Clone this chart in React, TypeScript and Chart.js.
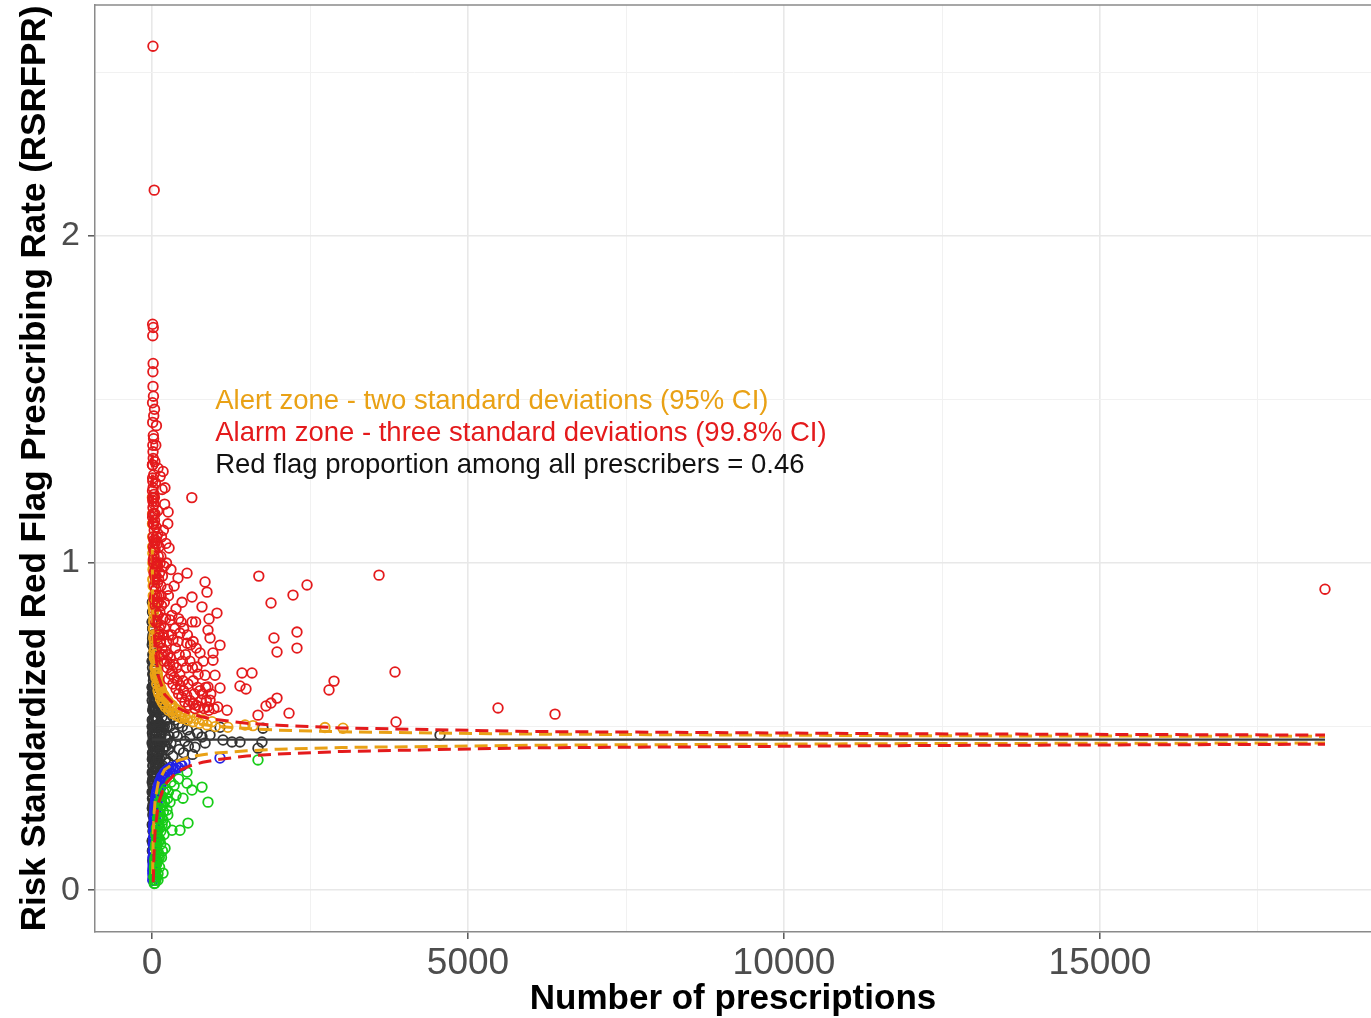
import React, { useEffect, useRef } from 'react';
import { Chart, registerables } from 'chart.js';

Chart.register(...registerables);

// ---------- Axis ticks ----------
const xTickValues = [0, 2500, 5000, 7500, 10000, 12500, 15000, 17500];
const xTickLabels = ['0', '', '5000', '', '10000', '', '15000', ''];
const yTickValues = [0, 0.5, 1, 1.5, 2, 2.5];
const yTickLabels = ['0', '', '1', '', '2', ''];

const xTitle = 'Number of prescriptions';
const yTitle = 'Risk Standardized Red Flag Prescribing Rate (RSRFPR)';

const annotationTexts = [
  'Alert zone - two standard deviations (95% CI)',
  'Alarm zone - three standard deviations (99.8% CI)',
  'Red flag proportion among all prescribers = 0.46',
];

// ---------- Points: [number of prescriptions, RSRFPR] ----------
const redPoints: [number, number][] = [
  [15, 2.58], [35, 2.14], [10, 1.73], [20, 1.72], [12, 1.695], [18, 1.61], [14, 1.585],
  [16, 1.54], [23, 1.51], [9, 1.49], [40, 1.47], [27, 1.45], [11, 1.43], [70, 1.42],
  [21, 1.39], [25, 1.38], [13, 1.36], [60, 1.36], [16, 1.34], [19, 1.32], [45, 1.31],
  [9, 1.3], [95, 1.29], [175, 1.28], [28, 1.27], [10, 1.26], [130, 1.265], [12, 1.25],
  [55, 1.245], [17, 1.23], [205, 1.23], [160, 1.225], [30, 1.21], [24, 1.2], [38, 1.2],
  [630, 1.2], [200, 1.18], [33, 1.18], [15, 1.17], [90, 1.16], [255, 1.156], [48, 1.15],
  [25, 1.15], [40, 1.13], [250, 1.12], [26, 1.12], [65, 1.11], [180, 1.1], [35, 1.1],
  [75, 1.08], [30, 1.07], [85, 1.06], [220, 1.06], [110, 1.05], [270, 1.046], [50, 1.04],
  [100, 1.02], [140, 1.02], [20, 1.01], [60, 1.0], [70, 0.99], [300, 0.98], [120, 0.97],
  [45, 0.96], [90, 0.94], [140, 0.93], [350, 0.93], [60, 0.92], [110, 0.9], [260, 0.9],
  [35, 0.89], [80, 0.88], [150, 0.87], [380, 0.86], [125, 0.85], [95, 0.84], [170, 0.83],
  [420, 0.83], [60, 0.82], [140, 0.81], [200, 0.8], [500, 0.8], [105, 0.79], [180, 0.78],
  [560, 0.78], [310, 0.78], [75, 0.77], [230, 0.76], [650, 0.76], [130, 0.755], [160, 0.74],
  [370, 0.74], [700, 0.74], [210, 0.73], [150, 0.72], [250, 0.72], [430, 0.72], [115, 0.715],
  [190, 0.7], [480, 0.7], [600, 0.7], [280, 0.69], [240, 0.68], [540, 0.68], [320, 0.67],
  [300, 0.66], [350, 0.65], [260, 0.645], [400, 0.64], [650, 0.64], [330, 0.63],
  [450, 0.625], [720, 0.62], [380, 0.615], [500, 0.61], [420, 0.6], [800, 0.6], [550, 0.595],
  [470, 0.59], [600, 0.58], [860, 0.58], [520, 0.575], [650, 0.57], [580, 0.565],
  [700, 0.565], [750, 0.56], [680, 0.555], [820, 0.555], [900, 0.55],
  [7, 1.3], [8, 1.22], [10, 1.14], [13, 1.19], [18, 1.12], [22, 1.05], [28, 1.0], [32, 0.97],
  [38, 0.93], [44, 0.9], [52, 0.87], [58, 0.95], [66, 0.85], [72, 0.9], [82, 0.82],
  [88, 0.99], [98, 0.78], [102, 0.88], [118, 0.8], [135, 0.76], [145, 0.9], [165, 0.96],
  [185, 0.72], [195, 0.88], [215, 0.83], [235, 0.7], [265, 0.78], [290, 0.71], [315, 0.84],
  [340, 0.69], [365, 0.8], [390, 0.68], [410, 0.76], [440, 0.66], [460, 0.82], [490, 0.64],
  [530, 0.72], [570, 0.63], [610, 0.75], [640, 0.68], [670, 0.6], [690, 0.82], [730, 0.66],
  [780, 0.58], [810, 0.7], [850, 0.62], [880, 0.56], [930, 0.6], [980, 0.555], [1040, 0.56],
  [11, 1.2], [14, 1.15], [19, 1.08], [23, 1.12], [29, 1.04], [34, 1.02], [42, 1.06],
  [47, 0.98], [56, 1.07], [64, 0.96], [78, 1.0], [92, 1.09], [105, 0.95], [128, 1.0],
  [150, 1.08], [190, 0.99], [230, 1.0], [245, 0.92],
  [411, 0.954], [554, 0.969], [839, 0.942], [870, 0.911], [633, 0.896], [475, 0.88],
  [791, 0.866], [1028, 0.847], [633, 0.82], [886, 0.795], [918, 0.771], [1076, 0.749],
  [965, 0.725], [965, 0.703], [760, 0.725], [443, 0.786], [285, 0.826], [332, 0.765],
  [554, 0.755], [712, 0.682], [839, 0.657], [997, 0.657], [1076, 0.618], [886, 0.621],
  [760, 0.61], [918, 0.581], [1187, 0.55], [1424, 0.664], [1582, 0.664], [1392, 0.624],
  [1487, 0.615], [1690, 0.96], [2453, 0.933], [2231, 0.902], [1883, 0.878], [3592, 0.963],
  [2294, 0.789], [1930, 0.771], [1978, 0.728], [2294, 0.74], [902, 0.829], [3845, 0.667],
  [2880, 0.639], [2801, 0.612], [1978, 0.587], [1883, 0.572], [1804, 0.563], [2168, 0.541],
  [1677, 0.535], [5475, 0.557], [6377, 0.538], [3861, 0.514], [18560, 0.92],
];

const orangePoints: [number, number][] = [
  [6, 1.2], [9, 1.15], [8, 1.12], [12, 1.12], [11, 1.08], [10, 1.05], [13, 1.03], [14, 1.0],
  [16, 0.98], [15, 0.95], [17, 0.95], [18, 0.93], [20, 0.9], [22, 0.88], [19, 0.87],
  [24, 0.86], [25, 0.85], [30, 0.83], [28, 0.82], [23, 0.8], [32, 0.8], [35, 0.78],
  [27, 0.77], [40, 0.76], [42, 0.75], [45, 0.74], [33, 0.73], [50, 0.72], [37, 0.71],
  [55, 0.71], [60, 0.7], [65, 0.69], [47, 0.68], [70, 0.68], [53, 0.66], [80, 0.665],
  [85, 0.66], [62, 0.65], [90, 0.65], [100, 0.64], [75, 0.63], [115, 0.63], [120, 0.625],
  [130, 0.62], [140, 0.615], [95, 0.61], [150, 0.61], [110, 0.6], [170, 0.6], [190, 0.595],
  [135, 0.585], [220, 0.585], [240, 0.58], [250, 0.578], [160, 0.575], [180, 0.57],
  [280, 0.57], [300, 0.565], [320, 0.565], [210, 0.56], [360, 0.556], [260, 0.55],
  [400, 0.55], [450, 0.545], [330, 0.54], [380, 0.535], [520, 0.535], [430, 0.53],
  [600, 0.53], [480, 0.525], [700, 0.525], [560, 0.52], [800, 0.52], [650, 0.515],
  [950, 0.515], [750, 0.51], [870, 0.505], [1000, 0.5], [1200, 0.498], [1472, 0.505],
  [1598, 0.503], [2737, 0.497], [3022, 0.495],
];

const blackPoints: [number, number][] = [
  [2, 0.5], [3, 0.33], [4, 0.75], [5, 0.25], [5, 0.6], [6, 0.88], [7, 0.15], [7, 0.42],
  [8, 0.68], [9, 0.3], [10, 0.52], [10, 0.8], [11, 0.2], [12, 0.62], [12, 0.09], [13, 0.38],
  [14, 0.72], [15, 0.12], [16, 0.47], [17, 0.85], [18, 0.28], [18, 0.14], [20, 0.56],
  [21, 0.78], [22, 0.18], [23, 0.4], [25, 0.66], [25, 0.2], [26, 0.33], [28, 0.5],
  [30, 0.72], [30, 0.22], [32, 0.6], [34, 0.44], [35, 0.25], [36, 0.27], [38, 0.68],
  [40, 0.36], [40, 0.3], [42, 0.55], [45, 0.63], [45, 0.27], [47, 0.3], [50, 0.48],
  [52, 0.4], [55, 0.58], [58, 0.34], [60, 0.62], [60, 0.3], [65, 0.45], [68, 0.52],
  [70, 0.32], [72, 0.37], [75, 0.57], [80, 0.42], [85, 0.6], [88, 0.33], [92, 0.5],
  [96, 0.46], [100, 0.55], [105, 0.39], [110, 0.58], [115, 0.43], [120, 0.51], [128, 0.36],
  [135, 0.56], [140, 0.47], [150, 0.41], [160, 0.53], [170, 0.38], [180, 0.49], [190, 0.56],
  [200, 0.44], [215, 0.4], [230, 0.52], [245, 0.46], [250, 0.55], [260, 0.43], [260, 0.39],
  [280, 0.5], [300, 0.45], [330, 0.41], [330, 0.53], [350, 0.48], [360, 0.52], [400, 0.47],
  [420, 0.51], [430, 0.43], [480, 0.5], [500, 0.42], [520, 0.455], [560, 0.49], [575, 0.44],
  [600, 0.47], [640, 0.415], [680, 0.437], [720, 0.48], [791, 0.468], [840, 0.45],
  [918, 0.474], [1076, 0.498], [1123, 0.459], [1266, 0.453], [1392, 0.453], [1677, 0.434],
  [1740, 0.453], [1756, 0.495], [4557, 0.474],
  [1, 0.45], [2, 0.7], [3, 0.58], [4, 0.36], [4, 0.2], [5, 0.82], [6, 0.48], [6, 0.12],
  [7, 0.62], [8, 0.25], [8, 0.5], [9, 0.77], [9, 0.4], [10, 0.15], [11, 0.66], [11, 0.34],
  [12, 0.45], [13, 0.8], [13, 0.23], [14, 0.55], [15, 0.7], [15, 0.32], [16, 0.18],
  [16, 0.62], [17, 0.41], [19, 0.72], [19, 0.5], [20, 0.25], [21, 0.36], [22, 0.64],
  [24, 0.47], [24, 0.7], [26, 0.56], [27, 0.3], [28, 0.74], [29, 0.4], [31, 0.52],
  [33, 0.35], [33, 0.67], [35, 0.45], [37, 0.58], [39, 0.49], [41, 0.65], [43, 0.33],
  [44, 0.42], [46, 0.53], [48, 0.6], [51, 0.37], [53, 0.63], [56, 0.47], [57, 0.29],
  [59, 0.55], [62, 0.4], [63, 0.6], [66, 0.35], [67, 0.5], [71, 0.58], [74, 0.44],
  [77, 0.39], [79, 0.53], [82, 0.48], [86, 0.4], [90, 0.56], [94, 0.37], [98, 0.6],
  [103, 0.45], [108, 0.5], [112, 0.38], [118, 0.55], [124, 0.44], [132, 0.5], [145, 0.55],
  [155, 0.45], [165, 0.5], [175, 0.43], [195, 0.5], [210, 0.47], [225, 0.44], [240, 0.5],
  [270, 0.47],
  [1, 0.62], [2, 0.3], [3, 0.82], [3, 0.15], [4, 0.52], [5, 0.4], [6, 0.7], [7, 0.28],
  [8, 0.85], [9, 0.58], [10, 0.36], [11, 0.48], [12, 0.76], [13, 0.55], [14, 0.26],
  [15, 0.44], [16, 0.78], [17, 0.3], [18, 0.6], [19, 0.38], [20, 0.46], [21, 0.62],
  [22, 0.5], [23, 0.7], [25, 0.42], [26, 0.27], [27, 0.6], [29, 0.65], [30, 0.45],
  [32, 0.3], [34, 0.55], [36, 0.62], [38, 0.4], [40, 0.5], [42, 0.45], [44, 0.58],
  [46, 0.38], [48, 0.45], [50, 0.56], [54, 0.5], [58, 0.44], [61, 0.52], [64, 0.56],
  [69, 0.42], [73, 0.5], [78, 0.46], [84, 0.52], [89, 0.44], [95, 0.4], [101, 0.5],
  [107, 0.42], [114, 0.48], [122, 0.4], [130, 0.45],
];

const bluePoints: [number, number][] = [
  [12, 0.03], [14, 0.05], [16, 0.07], [18, 0.09], [19, 0.12], [20, 0.06], [21, 0.14],
  [22, 0.08], [23, 0.16], [24, 0.12], [25, 0.1], [26, 0.18], [27, 0.15], [28, 0.12],
  [29, 0.2], [30, 0.14], [31, 0.19], [32, 0.1], [33, 0.22], [35, 0.16], [36, 0.21],
  [38, 0.14], [40, 0.18], [42, 0.24], [45, 0.2], [48, 0.17], [50, 0.26], [52, 0.22],
  [55, 0.27], [58, 0.21], [62, 0.24], [65, 0.29], [70, 0.25], [75, 0.3], [78, 0.27],
  [85, 0.26], [90, 0.31], [95, 0.28], [100, 0.32], [110, 0.3], [120, 0.33], [125, 0.31],
  [140, 0.315], [150, 0.345], [160, 0.33], [180, 0.34], [190, 0.355], [210, 0.345],
  [230, 0.365], [240, 0.355], [280, 0.36], [300, 0.375], [330, 0.37], [364, 0.37],
  [380, 0.38], [420, 0.375], [450, 0.385], [475, 0.38], [520, 0.39], [1076, 0.404],
  [13, 0.06], [15, 0.1], [17, 0.04], [19, 0.08], [21, 0.1], [23, 0.05], [25, 0.14],
  [27, 0.18], [30, 0.2], [34, 0.18], [37, 0.23], [41, 0.21], [44, 0.25], [47, 0.23],
  [53, 0.26], [60, 0.28], [68, 0.28], [80, 0.3], [105, 0.32], [130, 0.335], [170, 0.35],
  [200, 0.36], [260, 0.37],
];

const greenPoints: [number, number][] = [
  [30, 0.04], [35, 0.02], [38, 0.07], [40, 0.03], [42, 0.09], [47, 0.021], [45, 0.06],
  [50, 0.1], [52, 0.13], [55, 0.05], [58, 0.17], [60, 0.14], [60, 0.03], [65, 0.08],
  [68, 0.19], [70, 0.12], [72, 0.15], [75, 0.04], [79, 0.092], [80, 0.16], [85, 0.09],
  [88, 0.22], [90, 0.18], [95, 0.031], [95, 0.05], [98, 0.24], [100, 0.2], [105, 0.11],
  [110, 0.15], [112, 0.2], [118, 0.27], [120, 0.22], [120, 0.07], [127, 0.153], [130, 0.25],
  [135, 0.23], [140, 0.18], [145, 0.29], [150, 0.27], [150, 0.1], [160, 0.2], [165, 0.12],
  [170, 0.26], [174, 0.214], [174, 0.052], [185, 0.3], [190, 0.17], [200, 0.27],
  [206, 0.128], [220, 0.31], [237, 0.245], [245, 0.28], [260, 0.3], [285, 0.269],
  [300, 0.33], [316, 0.183], [350, 0.32], [380, 0.29], [420, 0.34], [443, 0.183],
  [490, 0.281], [554, 0.327], [554, 0.361], [570, 0.205], [633, 0.306], [791, 0.315],
  [886, 0.269], [1677, 0.398],
  [36, 0.04], [40, 0.06], [44, 0.05], [48, 0.08], [52, 0.04], [56, 0.1], [62, 0.06],
  [66, 0.13], [74, 0.08], [78, 0.18], [84, 0.14], [92, 0.12], [102, 0.16], [108, 0.22],
  [115, 0.1], [125, 0.19], [138, 0.14], [155, 0.22], [180, 0.24], [210, 0.2], [250, 0.23],
];

// ---------- Control limits ----------
const meanN = [0, 18560];
const meanRate = [0.46, 0.46];

const upperN = [5, 10, 15, 20, 30, 50, 100, 200, 400, 600, 800, 1000, 1500, 2000, 3000, 6000, 12000, 18560];
const upper2 = [1.041, 0.871, 0.796, 0.751, 0.697, 0.644, 0.59, 0.552, 0.525, 0.513, 0.506, 0.501, 0.494, 0.489, 0.484, 0.477, 0.472, 0.47];
const upper3 = [1.332, 1.077, 0.963, 0.896, 0.816, 0.736, 0.655, 0.598, 0.558, 0.54, 0.529, 0.522, 0.51, 0.504, 0.496, 0.485, 0.478, 0.474];

const lower2N = [10, 15, 20, 30, 50, 100, 200, 400, 600, 800, 1000, 1500, 2000, 3000, 6000, 12000, 18560];
const lower2 = [0.049, 0.124, 0.169, 0.223, 0.276, 0.33, 0.368, 0.395, 0.407, 0.414, 0.419, 0.426, 0.431, 0.436, 0.443, 0.448, 0.45];
const lower3N = [20, 30, 50, 100, 200, 400, 600, 800, 1000, 1500, 2000, 3000, 6000, 12000, 18560];
const lower3 = [0.024, 0.104, 0.184, 0.265, 0.322, 0.363, 0.38, 0.391, 0.398, 0.41, 0.416, 0.424, 0.435, 0.442, 0.446];

// ---------- Styles ----------
const FONT = '"Liberation Sans", Arial, Helvetica, sans-serif';
const RED = '#E41A1C';
const ORANGE = '#E9A115';
const BLACK = '#333333';
const BLUE = '#2222E6';
const GREEN = '#17CC17';

const toXY = (pts: [number, number][]) => pts.map(([x, y]) => ({ x, y }));
const zipXY = (xs: number[], ys: number[]) => xs.map((x, i) => ({ x, y: ys[i] }));

const pointSet = (label: string, pts: [number, number][], color: string, order: number) => ({
  label,
  data: toXY(pts),
  borderColor: color,
  backgroundColor: 'rgba(0,0,0,0)',
  pointRadius: 4.8,
  pointBorderWidth: 1.8,
  pointHoverRadius: 4.8,
  showLine: false,
  order,
});

const lineSet = (label: string, xs: number[], ys: number[], color: string, dashed: boolean, order: number) => ({
  label,
  data: zipXY(xs, ys),
  borderColor: color,
  backgroundColor: color,
  borderWidth: dashed ? 3 : 2.2,
  borderDash: dashed ? [13, 7] : [],
  pointRadius: 0,
  pointHoverRadius: 0,
  showLine: true,
  tension: 0,
  order,
});

const annotationPlugin = {
  id: 'funnelAnnotations',
  afterDraw(chart: any) {
    const { ctx, chartArea, scales } = chart;
    ctx.save();
    ctx.strokeStyle = '#8a8a8a';
    ctx.lineWidth = 1.5;
    ctx.beginPath();
    ctx.moveTo(chartArea.left, chartArea.top);
    ctx.lineTo(chartArea.right, chartArea.top);
    ctx.stroke();
    const colors = [ORANGE, RED, '#111111'];
    const yVals = [1.495, 1.395, 1.297];
    const x = scales.x.getPixelForValue(1000);
    ctx.font = '27.5px ' + FONT;
    ctx.textAlign = 'left';
    ctx.textBaseline = 'middle';
    annotationTexts.forEach((t, i) => {
      ctx.fillStyle = colors[i];
      ctx.fillText(t, x, scales.y.getPixelForValue(yVals[i]));
    });
    ctx.restore();
  },
};

export default function App() {
  const canvasRef = useRef<HTMLCanvasElement | null>(null);

  useEffect(() => {
    if (!canvasRef.current) return;
    const majorX = (v: number) => v % 5000 === 0;
    const majorY = (v: number) => Math.abs(v - Math.round(v)) < 1e-9;
    const chart = new Chart(canvasRef.current, {
      type: 'scatter',
      data: {
        datasets: [
          lineSet('Mean', meanN, meanRate, '#3a3a3a', false, 0),
          lineSet('Upper 3SD', upperN, upper3, RED, true, 1),
          lineSet('Lower 3SD', lower3N, lower3, RED, true, 1),
          lineSet('Upper 2SD', upperN, upper2, ORANGE, true, 2),
          lineSet('Lower 2SD', lower2N, lower2, ORANGE, true, 2),
          pointSet('Alarm high', redPoints, RED, 5),
          pointSet('Alert high', orangePoints, ORANGE, 6),
          pointSet('Alarm low', greenPoints, GREEN, 7),
          pointSet('Alert low', bluePoints, BLUE, 8),
          pointSet('Within limits', blackPoints, BLACK, 9),
        ] as any,
      },
      options: {
        responsive: false,
        animation: false,
        events: [],
        layout: { autoPadding: false, padding: { top: 5, right: 0, left: 0, bottom: 0 } },
        plugins: {
          legend: { display: false },
          tooltip: { enabled: false },
          title: { display: false },
        },
        scales: {
          x: {
            type: 'linear',
            min: -902,
            max: 19288,
            afterBuildTicks: (scale: any) => {
              scale.ticks = xTickValues.map((v) => ({ value: v }));
            },
            afterFit: (scale: any) => {
              scale.height = 86;
              scale.paddingLeft = 0;
              scale.paddingRight = 0;
            },
            ticks: {
              autoSkip: false,
              maxRotation: 0,
              padding: 3,
              color: '#4D4D4D',
              font: { family: FONT, size: 37 },
              callback: (_v: any, i: number) => xTickLabels[i],
            },
            grid: {
              color: (c: any) => (majorX(c.tick?.value ?? 0) ? '#E8E8E8' : '#F1F1F1'),
              lineWidth: (c: any) => (majorX(c.tick?.value ?? 0) ? 1.6 : 1),
              tickColor: (c: any) => (majorX(c.tick?.value ?? 0) ? '#555555' : 'rgba(0,0,0,0)'),
              tickLength: 7,
              tickWidth: 1.5,
            },
            border: { color: '#8a8a8a', width: 1.5 },
            title: {
              display: true,
              text: xTitle,
              color: '#000000',
              font: { family: FONT, size: 35, weight: 'bold', lineHeight: 1 },
              padding: { top: 0, bottom: 1 },
            },
          },
          y: {
            type: 'linear',
            min: -0.128,
            max: 2.706,
            afterBuildTicks: (scale: any) => {
              scale.ticks = yTickValues.map((v) => ({ value: v }));
            },
            afterFit: (scale: any) => {
              scale.width = 95;
              scale.paddingTop = 0;
              scale.paddingBottom = 0;
            },
            ticks: {
              autoSkip: false,
              padding: 8,
              color: '#4D4D4D',
              font: { family: FONT, size: 34 },
              callback: (_v: any, i: number) => yTickLabels[i],
            },
            grid: {
              color: (c: any) => (majorY(c.tick?.value ?? 0) ? '#E8E8E8' : '#F1F1F1'),
              lineWidth: (c: any) => (majorY(c.tick?.value ?? 0) ? 1.6 : 1),
              tickColor: (c: any) => (majorY(c.tick?.value ?? 0) ? '#555555' : 'rgba(0,0,0,0)'),
              tickLength: 7,
              tickWidth: 1.5,
            },
            border: { color: '#8a8a8a', width: 1.5 },
            title: {
              display: true,
              text: yTitle,
              color: '#000000',
              font: { family: FONT, size: 35, weight: 'bold', lineHeight: 1 },
              padding: { top: 18, bottom: 0 },
            },
          },
        },
      } as any,
      plugins: [annotationPlugin],
    });
    return () => chart.destroy();
  }, []);

  return (
    <div style={{ position: 'absolute', left: 0, top: 0, width: 1371, height: 1018, background: '#ffffff' }}>
      <canvas ref={canvasRef} width={1371} height={1018} style={{ display: 'block' }} />
    </div>
  );
}
